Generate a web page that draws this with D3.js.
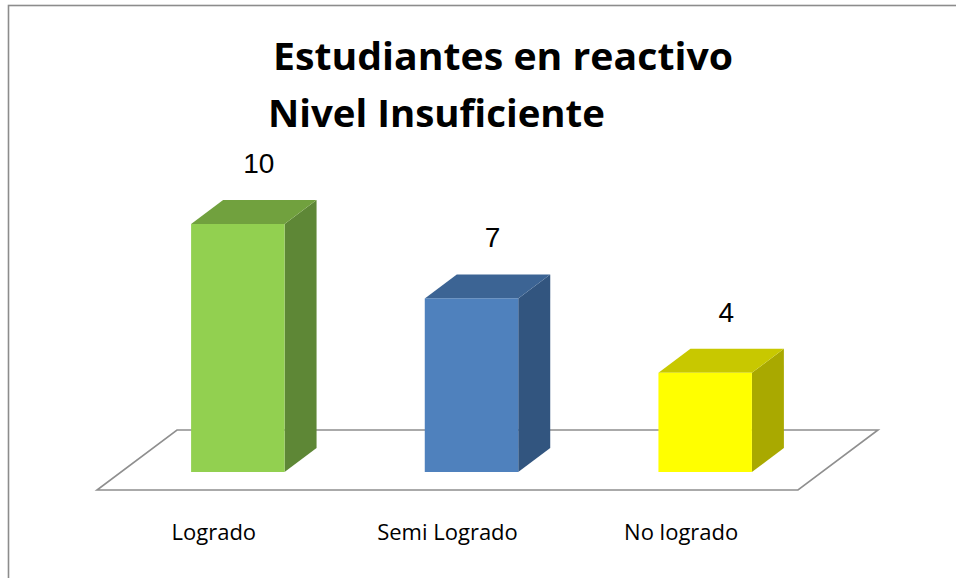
<!DOCTYPE html>
<html>
<head>
<meta charset="utf-8">
<script src="https://cdn.jsdelivr.net/npm/d3@7"></script>
<style>
  html, body { margin: 0; padding: 0; background: #fff; }
  svg { display: block; }
</style>
</head>
<body>
<svg id="chart" width="956" height="578"></svg>
<script>
// Data
const categories = ["Logrado", "Semi Logrado", "No logrado"];
const values = [10, 7, 4];
const titleLines = ["Estudiantes en reactivo", "Nivel Insuficiente"];

// Face colours per bar: front, top, side
const frontColors = ["#92D050", "#4F81BD", "#FFFF00"];
const topColors   = ["#71A13E", "#3C6494", "#C8C800"];
const sideColors  = ["#5E8736", "#32557F", "#A9A900"];

const svg = d3.select("#chart");

// Chart frame (its right and bottom edges run past the page)
svg.append("rect")
  .attr("x", 8.5).attr("y", 5.5)
  .attr("width", 1000).attr("height", 1000)
  .attr("fill", "none")
  .attr("stroke", "#8c8c8c")
  .attr("stroke-width", 1.6);

// Oblique 3D projection: floor front edge + depth vector
const floorFrontY = 490;
const depth = { dx: 80, dy: -60 };
const barDepthFrom = 0.3, barDepthTo = 0.7;

const x = d3.scaleBand()
  .domain(categories)
  .range([97, 798])
  .paddingInner(0.6)
  .paddingOuter(0.3);

const baseY = floorFrontY + depth.dy * barDepthFrom;
const y = d3.scaleLinear().domain([0, 12]).range([baseY, 174.4]);

// Floor
const fx0 = x.range()[0], fx1 = x.range()[1];
svg.append("path")
  .attr("d", d3.line()([
    [fx0, floorFrontY],
    [fx1, floorFrontY],
    [fx1 + depth.dx, floorFrontY + depth.dy],
    [fx0 + depth.dx, floorFrontY + depth.dy]
  ]) + "Z")
  .attr("fill", "#fff")
  .attr("stroke", "#8f8f8f")
  .attr("stroke-width", 1.6);

// Bars
const ox = depth.dx * barDepthFrom;                      // front-face shift
const bdx = depth.dx * (barDepthTo - barDepthFrom);      // bar depth
const bdy = depth.dy * (barDepthTo - barDepthFrom);

const bars = svg.append("g").selectAll("g")
  .data(categories.map((c, i) => ({ c, v: values[i], i })))
  .join("g");

bars.each(function(d) {
  const g = d3.select(this);
  const x0 = x(d.c) + ox, x1 = x0 + x.bandwidth();
  const yTop = y(d.v), yBot = y(0);
  // side face
  g.append("path")
    .attr("d", d3.line()([[x1, yBot], [x1, yTop], [x1 + bdx, yTop + bdy], [x1 + bdx, yBot + bdy]]) + "Z")
    .attr("fill", sideColors[d.i]);
  // top face
  g.append("path")
    .attr("d", d3.line()([[x0, yTop], [x1, yTop], [x1 + bdx, yTop + bdy], [x0 + bdx, yTop + bdy]]) + "Z")
    .attr("fill", topColors[d.i]);
  // front face
  g.append("rect")
    .attr("x", x0).attr("y", yTop)
    .attr("width", x.bandwidth()).attr("height", yBot - yTop)
    .attr("fill", frontColors[d.i]);
  // value label
  g.append("text")
    .attr("x", x0 + x.bandwidth() / 2 + 21)
    .attr("y", yTop - 51)
    .attr("text-anchor", "middle")
    .attr("font-family", "Liberation Sans, Arial, sans-serif")
    .attr("font-size", 28)
    .attr("fill", "#000")
    .text(d.v);
});

// Category labels along the floor front edge
svg.append("g").selectAll("text")
  .data(categories)
  .join("text")
  .attr("x", d => x(d) - x.step() * x.paddingInner() / 2 + x.step() / 2)
  .attr("y", 539.5)
  .attr("text-anchor", "middle")
  .attr("font-family", "Open Sans, sans-serif")
  .attr("font-size", 22)
  .attr("fill", "#000")
  .text(d => d);

// Title
const titlePos = [{ x: 273, y: 70, w: 460 }, { x: 268, y: 126.7, w: 337 }];
svg.append("g").selectAll("text")
  .data(titleLines)
  .join("text")
  .attr("x", (d, i) => titlePos[i].x)
  .attr("y", (d, i) => titlePos[i].y)
  .attr("font-family", "Open Sans, sans-serif")
  .attr("font-weight", "bold")
  .attr("font-size", 38)
  .attr("fill", "#000")
  .attr("textLength", (d, i) => titlePos[i].w)
  .attr("lengthAdjust", "spacingAndGlyphs")
  .text(d => d);
</script>
</body>
</html>
